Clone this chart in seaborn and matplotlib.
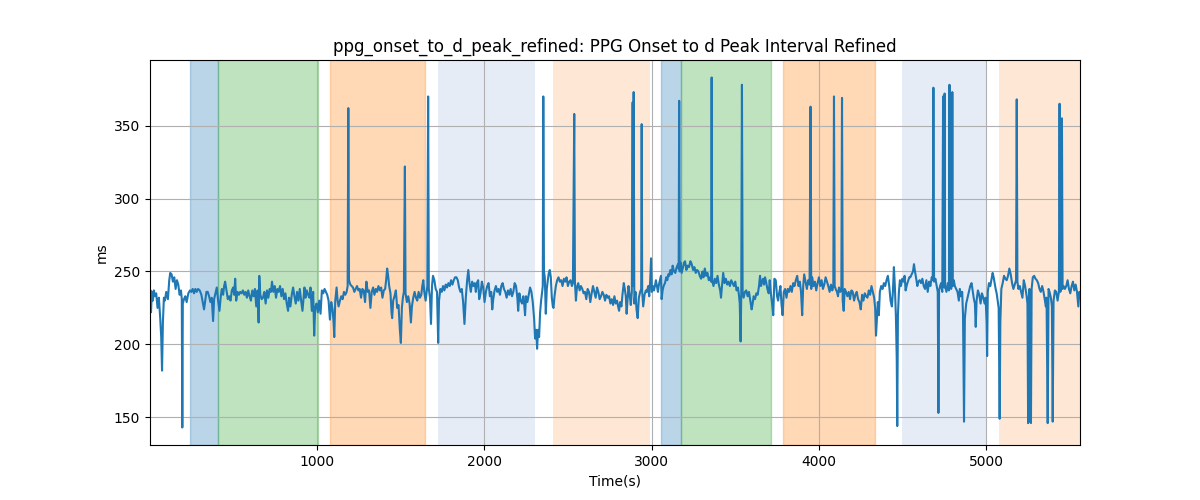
import pandas as pd
import matplotlib
matplotlib.use("Agg")
import matplotlib.pyplot as plt
import seaborn as sns

# PPG onset -> d peak interval (ms)
times = [
    3, 6, 9, 14, 20, 26, 32, 40, 48, 56, 64, 70, 75, 80, 86, 92, 100, 110, 118, 124,
    132, 140, 148, 156, 164, 172, 180, 188, 193, 196, 199, 206, 214, 222, 232, 242, 250, 258, 266, 274,
    282, 290, 300, 310, 318, 326, 334, 340, 348, 356, 364, 372, 380, 386, 394, 402, 410, 418, 426, 432,
    440, 446, 452, 460, 468, 476, 484, 492, 500, 506, 512, 518, 526, 534, 542, 550, 558, 566, 574, 582,
    590, 598, 606, 614, 622, 630, 638, 646, 652, 656, 662, 670, 678, 686, 694, 702, 710, 718, 726, 732,
    740, 748, 756, 764, 772, 780, 788, 796, 804, 812, 820, 828, 834, 842, 850, 858, 866, 874, 882, 890,
    898, 906, 914, 920, 926, 932, 940, 948, 956, 962,
    970, 978, 984, 990, 998, 1006, 1014, 1022, 1030, 1038, 1046, 1054, 1062, 1070, 1078, 1086, 1094, 1100, 1104, 1110,
    1118, 1124, 1130, 1138, 1146, 1154, 1162, 1170, 1178, 1184, 1188, 1192, 1200, 1208, 1216, 1224, 1232, 1240, 1248, 1256,
    1264, 1272, 1280, 1288, 1296, 1304, 1312, 1320, 1328, 1336, 1344, 1352, 1360, 1368, 1376, 1384, 1392, 1400, 1408, 1414,
    1420, 1426, 1432, 1440, 1446, 1450, 1456, 1464, 1472, 1480, 1488, 1496, 1502, 1508, 1514, 1520, 1526, 1530, 1538, 1546,
    1554, 1562, 1568, 1576, 1584, 1592, 1600, 1608, 1616, 1624, 1630, 1636, 1642, 1650, 1656, 1660, 1665, 1669, 1676, 1682,
    1688, 1694, 1702, 1710, 1718, 1725, 1730, 1738, 1746, 1754, 1762, 1770, 1778, 1786, 1794, 1802, 1810, 1818, 1826, 1834,
    1842, 1850, 1858, 1866, 1874, 1882,
    1890, 1898, 1905, 1912, 1920, 1928, 1936, 1944, 1950, 1956, 1964, 1970, 1978, 1986, 1994, 2002, 2010, 2018, 2026, 2034,
    2042, 2048, 2054, 2062, 2070, 2078, 2086, 2094, 2102, 2110, 2118, 2126, 2134, 2142, 2150, 2158, 2166, 2174, 2182, 2190,
    2198, 2203, 2210, 2218, 2226, 2234, 2240, 2244, 2250, 2258, 2266, 2274, 2282, 2290, 2298, 2304, 2310, 2316, 2322, 2328,
    2334, 2340, 2346, 2350, 2353, 2357, 2362, 2368, 2374, 2380, 2386, 2392, 2398, 2404, 2410, 2414, 2420, 2428, 2436, 2444,
    2452, 2460, 2468, 2476, 2484, 2492, 2500, 2508, 2516, 2524, 2530, 2538, 2542, 2548, 2554, 2562, 2570, 2578, 2586, 2594,
    2602, 2610, 2618, 2626, 2634, 2642, 2650, 2658, 2666, 2674, 2682, 2690, 2698, 2706, 2714, 2722, 2730, 2738, 2746, 2754,
    2762, 2770, 2778, 2786, 2794, 2800, 2806,
    2812, 2820, 2826, 2834, 2840, 2846, 2851, 2856, 2862, 2870, 2876, 2882, 2887, 2890, 2893, 2897, 2904, 2910, 2917, 2924,
    2932, 2938, 2941, 2944, 2950, 2958, 2966, 2972, 2980, 2986, 2992, 2997, 3002, 3008, 3014, 3020, 3026, 3032, 3038, 3044,
    3050, 3056, 3060, 3066, 3072, 3080, 3088, 3094, 3100, 3106, 3112, 3120, 3126, 3134, 3142, 3150, 3158, 3162, 3165, 3168,
    3174, 3180, 3188, 3194, 3200, 3208, 3216, 3224, 3232, 3240, 3248, 3256, 3264, 3272, 3280, 3288, 3296, 3304, 3310, 3318,
    3326, 3334, 3342, 3350, 3356, 3359, 3362, 3370, 3378, 3386, 3394, 3402, 3410, 3415, 3420, 3428, 3436, 3444, 3452, 3460,
    3468, 3476, 3484, 3492, 3500, 3508, 3516, 3522, 3527, 3532, 3536, 3540, 3544, 3550, 3558, 3566, 3574, 3582, 3590, 3598,
    3604, 3610, 3618, 3626, 3634, 3642, 3648, 3654, 3660, 3666, 3672, 3678, 3684, 3692, 3700, 3706, 3712, 3720, 3727,
    3734, 3742, 3750, 3756, 3762, 3770, 3776, 3783, 3790, 3798, 3806, 3814, 3822, 3830, 3838, 3846, 3854, 3862, 3870, 3878,
    3886, 3893, 3900, 3906, 3912, 3920, 3928, 3936, 3944, 3950, 3954, 3960, 3968, 3976, 3984, 3992, 4000, 4008, 4016, 4024,
    4032, 4040, 4048, 4056, 4064, 4072, 4080, 4086, 4090, 4094, 4100, 4108, 4114, 4120, 4128, 4134, 4138, 4142, 4148, 4154,
    4162, 4170, 4178, 4186, 4194, 4202, 4210, 4218, 4226, 4234, 4242, 4250, 4258, 4266, 4274, 4282, 4290, 4298, 4306, 4314,
    4322, 4330, 4336, 4341, 4346, 4352, 4358, 4364, 4372, 4380, 4388, 4396, 4404, 4412, 4420, 4428, 4436, 4442, 4448, 4454,
    4460, 4465, 4468, 4472, 4478, 4484, 4490, 4498, 4506, 4512, 4518, 4526, 4534, 4540, 4546, 4554, 4562, 4568, 4574, 4580,
    4588, 4594, 4602, 4610, 4618, 4626, 4634,
    4642, 4650, 4658, 4666, 4674, 4680, 4684, 4688, 4696, 4704, 4710, 4714, 4718, 4724, 4730, 4737, 4742, 4745, 4748, 4751,
    4754, 4762, 4770, 4777, 4780, 4783, 4790, 4794, 4797, 4800, 4806, 4812, 4820, 4828, 4836, 4842, 4848, 4856, 4861, 4867,
    4872, 4880, 4888, 4896, 4904, 4912, 4920, 4926, 4932, 4937, 4942, 4950, 4958, 4966, 4974, 4982, 4990, 4996, 5002, 5005,
    5009, 5016, 5024, 5030, 5038, 5044, 5050, 5056, 5062, 5068, 5074, 5080, 5084, 5090, 5098, 5106, 5114, 5122, 5130, 5138,
    5146, 5154, 5162, 5170, 5178, 5182, 5186, 5192, 5200, 5208, 5216, 5224, 5232, 5240, 5246, 5250, 5254, 5258, 5263, 5267,
    5271, 5278, 5286, 5294, 5302, 5310, 5318, 5326, 5334, 5342, 5350, 5356, 5360, 5367, 5372, 5378, 5386, 5392, 5397, 5402,
    5410, 5418, 5426, 5434, 5438, 5442, 5446, 5452, 5456, 5462, 5470, 5478, 5486, 5494, 5502, 5510, 5518, 5526, 5534, 5542,
    5550, 5556, 5560,
]
interval_ms = [
    228, 237, 222, 236, 230, 237, 233, 235, 225, 232, 218, 205, 182, 215, 232, 230, 236, 231, 244, 249,
    248, 243, 246, 238, 244, 241, 234, 237, 231, 143, 228, 231, 233, 229, 235, 237, 236, 238, 235, 238,
    236, 238, 237, 234, 229, 224, 231, 236, 236, 233, 229, 232, 216, 231, 235, 239, 230, 223, 233, 238,
    234, 240, 243, 237, 231, 233, 230, 237, 239, 234, 245, 230, 236, 234, 236, 235, 237, 234, 236, 232,
    237, 233, 230, 237, 233, 238, 226, 237, 215, 247, 234, 231, 232, 236, 228, 237, 232, 238, 236, 243,
    236, 240, 232, 238, 236, 240, 233, 238, 231, 235, 228, 223, 232, 226, 234, 239, 233, 228, 236, 230,
    238, 230, 223, 231, 239, 232, 237, 234, 232, 239,
    223, 236, 206, 225, 228, 222, 230, 221, 237, 235, 238, 236, 234, 230, 217, 229, 224, 215, 205, 230,
    239, 230, 226, 230, 233, 231, 236, 234, 236, 240, 362, 244, 241, 240, 239, 236, 238, 240, 237, 238,
    232, 238, 237, 229, 243, 236, 237, 225, 236, 239, 234, 238, 236, 240, 237, 239, 232, 237, 238, 244,
    252, 247, 240, 235, 222, 218, 230, 233, 237, 225, 227, 210, 201, 225, 232, 236, 322, 235, 229, 233,
    228, 215, 226, 232, 236, 232, 230, 236, 232, 234, 240, 244, 236, 230, 236, 240, 370, 238, 232, 214,
    240, 247, 244, 238, 236, 201, 230, 238, 236, 240, 237, 241, 239, 242, 240, 244, 241, 244, 246, 246,
    244, 239, 236, 238, 229, 214,
    232, 244, 251, 242, 236, 243, 240, 242, 236, 242, 244, 231, 235, 243, 239, 229, 236, 240, 242, 233,
    236, 224, 231, 237, 240, 236, 238, 234, 240, 242, 238, 236, 232, 237, 234, 238, 233, 236, 242, 240,
    232, 223, 235, 230, 228, 233, 226, 220, 233, 229, 234, 239, 236, 229, 218, 204, 210, 197, 210, 205,
    222, 230, 236, 240, 370, 250, 246, 221, 238, 244, 249, 251, 246, 232, 226, 225, 233, 240, 244, 246,
    243, 244, 240, 245, 243, 246, 240, 243, 244, 240, 242, 358, 243, 230, 239, 242, 237, 240, 238, 235,
    236, 231, 238, 236, 229, 235, 240, 236, 232, 239, 236, 231, 233, 236, 234, 230, 234, 232, 233, 228,
    231, 227, 233, 228, 230, 226, 223,
    229, 226, 234, 242, 238, 233, 221, 230, 240, 233, 227, 236, 366, 240, 373, 228, 236, 224, 218, 232,
    236, 238, 351, 236, 226, 234, 237, 236, 240, 233, 244, 259, 236, 240, 237, 240, 244, 240, 236, 241,
    244, 247, 231, 237, 240, 242, 246, 244, 248, 247, 251, 248, 254, 250, 249, 253, 255, 252, 367, 250,
    256, 249, 253, 256, 257, 251, 254, 253, 257, 255, 251, 253, 249, 251, 250, 247, 245, 250, 246, 252,
    247, 249, 244, 246, 243, 383, 244, 240, 245, 242, 247, 241, 237, 232, 239, 249, 242, 245, 241, 243,
    240, 244, 242, 240, 243, 237, 239, 234, 228, 202, 235, 378, 236, 232, 236, 237, 233, 236, 230, 224,
    228, 233, 231, 235, 234, 240, 247, 240, 243, 245, 241, 246, 243, 238, 235, 244, 236, 228, 220,
    245, 244, 233, 230, 235, 240, 228, 220, 236, 238, 232, 238, 236, 240, 236, 242, 240, 244, 247, 240,
    243, 236, 220, 240, 248, 243, 238, 244, 241, 363, 238, 246, 240, 243, 237, 242, 246, 240, 244, 238,
    241, 246, 243, 240, 236, 241, 237, 240, 370, 240, 238, 236, 233, 239, 236, 238, 369, 230, 223, 238,
    236, 233, 236, 231, 237, 236, 230, 234, 236, 231, 229, 224, 234, 230, 235, 233, 232, 237, 234, 240,
    236, 232, 225, 206, 216, 229, 220, 236, 240, 238, 242, 240, 244, 247, 240, 230, 226, 236, 253, 239,
    219, 190, 144, 220, 236, 244, 240, 245, 243, 247, 237, 241, 244, 246, 246, 248, 250, 255, 250, 246,
    240, 243, 244, 242, 245, 240, 238,
    244, 236, 243, 240, 246, 244, 376, 243, 245, 240, 236, 153, 237, 240, 242, 236, 370, 368, 239, 372,
    240, 236, 242, 237, 378, 242, 238, 240, 373, 240, 244, 240, 238, 236, 230, 238, 233, 236, 220, 147,
    218, 228, 232, 236, 240, 242, 236, 231, 228, 212, 230, 237, 234, 228, 235, 232, 228, 232, 215, 192,
    236, 242, 240, 244, 249, 246, 242, 238, 235, 230, 225, 149, 215, 238, 242, 247, 245, 244, 247, 252,
    248, 242, 238, 241, 244, 368, 243, 238, 240, 236, 232, 244, 240, 234, 228, 146, 232, 238, 147, 146,
    238, 246, 247, 245, 244, 242, 238, 236, 240, 236, 230, 226, 232, 146, 238, 236, 232, 226, 147, 230,
    237, 236, 230, 236, 365, 236, 237, 355, 238, 240, 238, 240, 244, 238, 235, 240, 243, 237, 241, 236,
    226, 236, 232,
]

# shaded phases (start, end in seconds) and which phase style each uses
span_starts = [241, 408, 1078, 1723, 2411, 3057, 3176, 3786, 4497, 5077]
span_ends = [408, 1006, 1646, 2303, 2991, 3176, 3714, 4336, 5005, 5600]
span_phase = ["p1", "p2", "p3", "p4", "p5", "p1", "p2", "p3", "p4", "p5"]

phase_style = {
    "p1": dict(color="tab:blue", alpha=0.3),
    "p2": dict(color="tab:green", alpha=0.3),
    "p3": dict(color="tab:orange", alpha=0.3),
    "p4": dict(facecolor="#e5ecf6", edgecolor="none", alpha=1.0),
    "p5": dict(facecolor="#fee8d5", edgecolor="none", alpha=1.0),
}

df = pd.DataFrame({"time": times, "value": interval_ms})

fig, ax = plt.subplots(figsize=(12, 5))

for start, end, phase in zip(span_starts, span_ends, span_phase):
    ax.axvspan(start, end, **phase_style[phase])

sns.lineplot(data=df, x="time", y="value", ax=ax, color="tab:blue",
             linewidth=1.5, estimator=None)

ax.set_xlim(times[0], times[-1])
ax.set_title("ppg_onset_to_d_peak_refined: PPG Onset to d Peak Interval Refined")
ax.set_xlabel("Time(s)")
ax.set_ylabel("ms")
ax.grid(True)

fig.savefig("out.png", dpi=100)
